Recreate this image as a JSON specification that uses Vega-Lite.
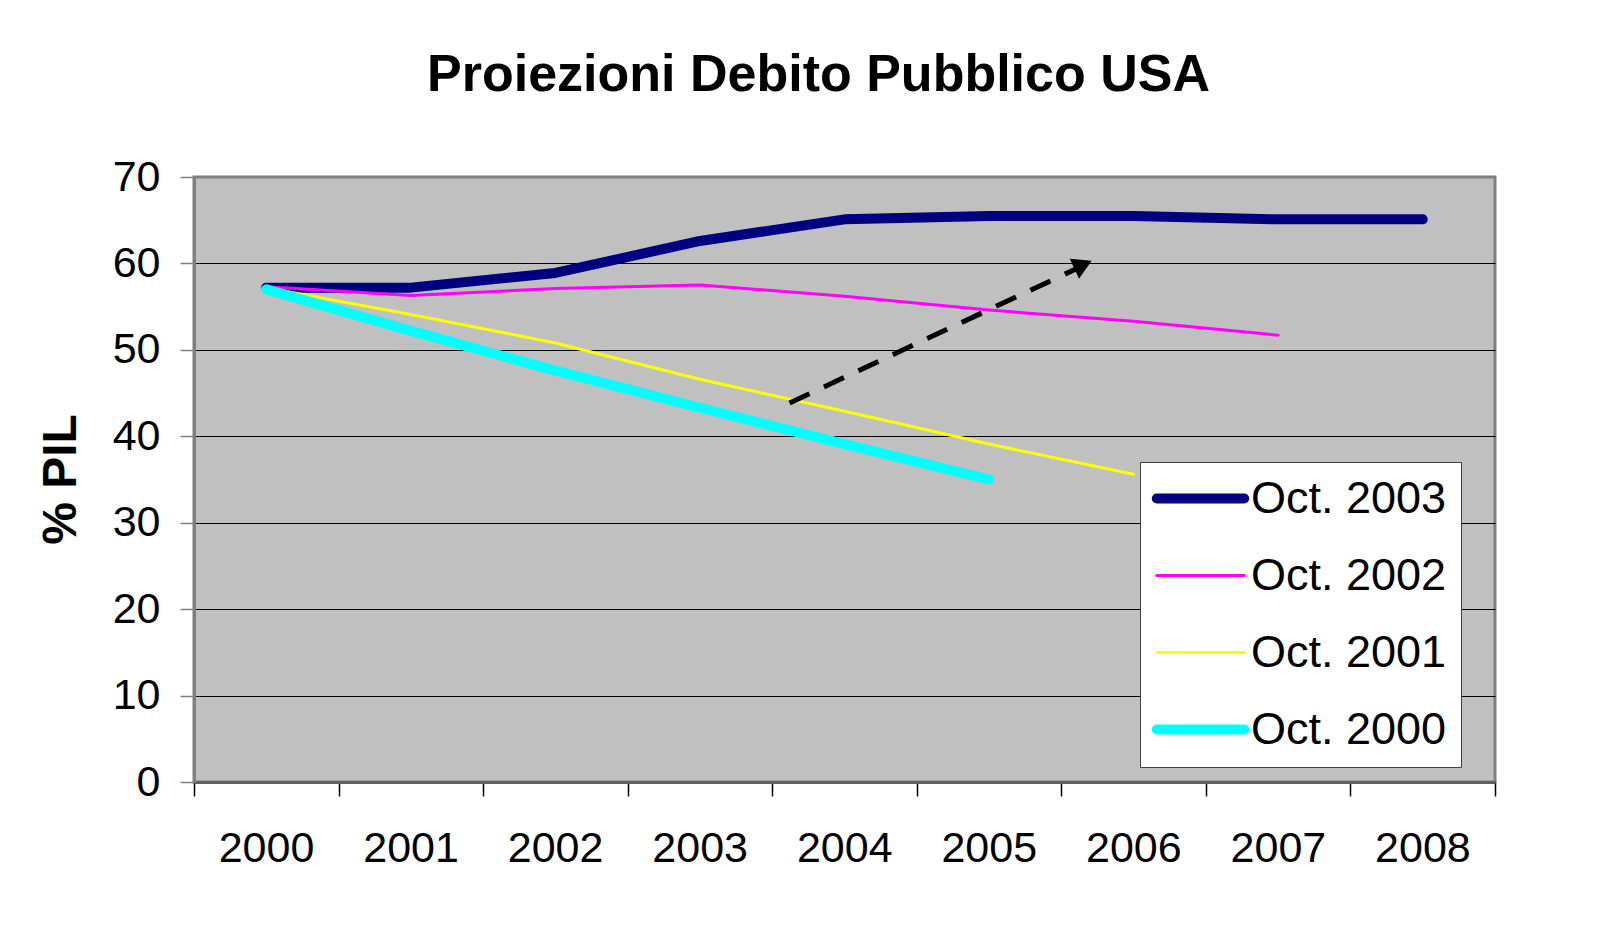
{
  "$schema": "https://vega.github.io/schema/vega-lite/v6.json",
  "autosize": "none",
  "width": 1301,
  "height": 605,
  "padding": {"left": 194, "top": 177, "right": 125, "bottom": 143},
  "background": "white",
  "title": {
    "text": "Proiezioni Debito Pubblico USA",
    "fontSize": 52,
    "font": "Liberation Sans",
    "fontWeight": "bold",
    "color": "black",
    "anchor": "middle",
    "dx": -26,
    "offset": 13,
    "baseline": "alphabetic"
  },
  "config": {
    "font": "Liberation Sans",
    "view": {"fill": "#C0C0C0", "stroke": "#808080", "strokeWidth": 3}
  },
  "datasets": {
    "proj": [
      {"series": "Oct. 2003", "year": 2000, "value": 57.2},
      {"series": "Oct. 2003", "year": 2001, "value": 57.2},
      {"series": "Oct. 2003", "year": 2002, "value": 58.9},
      {"series": "Oct. 2003", "year": 2003, "value": 62.6},
      {"series": "Oct. 2003", "year": 2004, "value": 65.1},
      {"series": "Oct. 2003", "year": 2005, "value": 65.5},
      {"series": "Oct. 2003", "year": 2006, "value": 65.5},
      {"series": "Oct. 2003", "year": 2007, "value": 65.1},
      {"series": "Oct. 2003", "year": 2008, "value": 65.1},
      {"series": "Oct. 2002", "year": 2000, "value": 57.3},
      {"series": "Oct. 2002", "year": 2001, "value": 56.3},
      {"series": "Oct. 2002", "year": 2002, "value": 57.1},
      {"series": "Oct. 2002", "year": 2003, "value": 57.5},
      {"series": "Oct. 2002", "year": 2004, "value": 56.2},
      {"series": "Oct. 2002", "year": 2005, "value": 54.6},
      {"series": "Oct. 2002", "year": 2006, "value": 53.3},
      {"series": "Oct. 2002", "year": 2007, "value": 51.7},
      {"series": "Oct. 2001", "year": 2000, "value": 57.2},
      {"series": "Oct. 2001", "year": 2001, "value": 54.1},
      {"series": "Oct. 2001", "year": 2002, "value": 50.8},
      {"series": "Oct. 2001", "year": 2003, "value": 46.6},
      {"series": "Oct. 2001", "year": 2004, "value": 42.9},
      {"series": "Oct. 2001", "year": 2005, "value": 39.1},
      {"series": "Oct. 2001", "year": 2006, "value": 35.6},
      {"series": "Oct. 2000", "year": 2000, "value": 57.0},
      {"series": "Oct. 2000", "year": 2001, "value": 52.2},
      {"series": "Oct. 2000", "year": 2002, "value": 47.6},
      {"series": "Oct. 2000", "year": 2003, "value": 43.3},
      {"series": "Oct. 2000", "year": 2004, "value": 39.1},
      {"series": "Oct. 2000", "year": 2005, "value": 35.0}
    ],
    "arrow": [
      {"year": 2003.62, "value": 43.85},
      {"year": 2005.615, "value": 59.47}
    ],
    "head": [
      {"year": 2005.65, "value": 59.85}
    ]
  },
  "encoding": {
    "x": {
      "field": "year",
      "type": "quantitative",
      "scale": {"domain": [1999.5, 2008.5], "nice": false, "zero": false},
      "axis": {
        "values": [1999.5, 2000.5, 2001.5, 2002.5, 2003.5, 2004.5, 2005.5, 2006.5, 2007.5, 2008.5],
        "labelExpr": "datum.value < 2008 ? format(datum.value + 0.5, 'd') : ''",
        "labelOffset": 72,
        "labelFontSize": 43,
        "labelColor": "black",
        "labelPadding": 31,
        "labelFlush": false,
        "labelOverlap": false,
        "tickSize": 14,
        "tickColor": "black",
        "tickWidth": 1.5,
        "domainColor": "#606060",
        "domainWidth": 3,
        "grid": false,
        "title": null
      }
    },
    "y": {
      "field": "value",
      "type": "quantitative",
      "scale": {"domain": [0, 70], "nice": false},
      "axis": {
        "values": [0, 10, 20, 30, 40, 50, 60, 70],
        "title": "% PIL",
        "titleFontSize": 48,
        "titleFontWeight": "bold",
        "titleColor": "black",
        "titleAngle": -90,
        "titleX": -133,
        "titleY": 302,
        "titleAlign": "center",
        "titleBaseline": "middle",
        "labelFontSize": 43,
        "labelColor": "black",
        "labelPadding": 20,
        "labelFlush": false,
        "tickSize": 14,
        "tickColor": "#808080",
        "tickWidth": 1.5,
        "domainColor": "#808080",
        "domainWidth": 3,
        "grid": true,
        "gridColor": {"condition": {"test": "datum.value === 70 || datum.value === 0", "value": "#808080"}, "value": "black"},
        "gridWidth": 1.2
      }
    }
  },
  "layer": [
    {
      "data": {"name": "proj"},
      "transform": [{"filter": "datum.series === 'Oct. 2003'"}],
      "mark": {"type": "line", "strokeWidth": 10, "strokeCap": "round", "strokeJoin": "round"},
      "encoding": {
        "color": {
          "field": "series",
          "type": "nominal",
          "scale": {
            "domain": ["Oct. 2003", "Oct. 2002", "Oct. 2001", "Oct. 2000"],
            "range": ["#000080", "#FF00FF", "#FFFF00", "#00FFFF"]
          },
          "legend": {
            "title": null,
            "orient": "none",
            "legendX": 946,
            "legendY": 285,
            "fillColor": "white",
            "strokeColor": "#404040",
            "padding": 14,
            "labelFontSize": 45,
            "labelFont": "Liberation Sans",
            "labelColor": "black",
            "labelLimit": 0,
            "symbolType": "M-2.3,0H2.3",
            "symbolSize": 1444,
            "symbolStrokeWidth": 9,
            "symbolOffset": 24,
            "labelOffset": 28,
            "rowPadding": 31,
            "encode": {
              "symbols": {
                "update": {
                  "strokeWidth": {"signal": "datum.value === 'Oct. 2002' || datum.value === 'Oct. 2001' ? 3 : 10"},
                  "strokeCap": {"value": "round"}
                }
              }
            }
          }
        }
      }
    },
    {
      "data": {"name": "proj"},
      "transform": [{"filter": "datum.series === 'Oct. 2002' || datum.series === 'Oct. 2001'"}],
      "mark": {"type": "line", "strokeWidth": 3, "strokeCap": "round", "strokeJoin": "round"},
      "encoding": {"color": {"field": "series", "type": "nominal"}}
    },
    {
      "data": {"name": "proj"},
      "transform": [{"filter": "datum.series === 'Oct. 2000'"}],
      "mark": {"type": "line", "strokeWidth": 10, "strokeCap": "round", "strokeJoin": "round"},
      "encoding": {"color": {"field": "series", "type": "nominal"}}
    },
    {
      "data": {"name": "arrow"},
      "mark": {"type": "line", "color": "black", "strokeWidth": 5, "strokeDash": [22, 16]},
      "encoding": {}
    },
    {
      "data": {"name": "head"},
      "mark": {"type": "point", "shape": "triangle-right", "filled": true, "color": "black", "opacity": 1, "size": 484, "angle": 335},
      "encoding": {}
    }
  ]
}
